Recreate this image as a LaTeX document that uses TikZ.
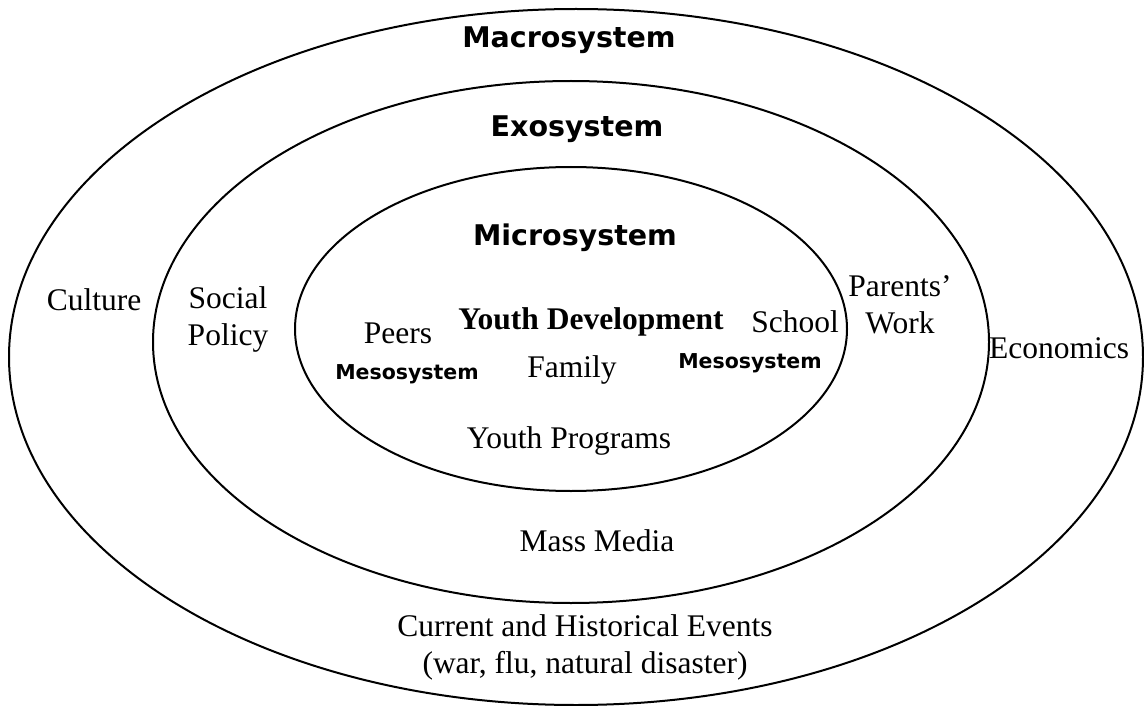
\documentclass[tikz,border=0pt]{standalone}
\usepackage{fontspec}
\setmainfont{Liberation Serif}
\newfontfamily\bsans{DejaVu Sans Bold}
\begin{document}
\begin{tikzpicture}[x=1pt,y=-1pt,
  ring/.style={line width=2pt},
  serif/.style={font=\fontsize{31.5}{37}\selectfont, align=center, inner sep=0pt},
  serifbold/.style={font=\bfseries\fontsize{31.5}{37}\selectfont, inner sep=0pt},
  bigsans/.style={font=\bsans\fontsize{28.5}{34}\selectfont, inner sep=0pt},
  smallsans/.style={font=\bsans\fontsize{20.5}{24}\selectfont, inner sep=0pt}]
\useasboundingbox (0,0) rectangle (1144,706);
\coordinate (cmacro) at (576,357);
\coordinate (cexo) at (571,342);
\coordinate (cmicro) at (571,329);
\draw[ring] (cmacro) ellipse [x radius=567, y radius=348];
\draw[ring] (cexo) ellipse [x radius=418, y radius=261];
\draw[ring] (cmicro) ellipse [x radius=276, y radius=162];
\node[bigsans] (macro) at (569,40) {Macrosystem};
\node[bigsans] (exo) at (577,129) {Exosystem};
\node[bigsans] (micro) at (575,238) {Microsystem};
\node[serif] (culture) at (94,300) {Culture};
\node[serif] (social) at (228,319) {Social\\Policy};
\node[serif] (peers) at (398,333) {Peers};
\node[serifbold] (yd) at (591,322) {Youth Development};
\node[serif] (school) at (795,322) {School};
\node[serif] (parents) at (900,305) {Parents’\\Work};
\node[serif] (econ) at (1059,348) {Economics};
\node[smallsans] (meso1) at (407,374) {Mesosystem};
\node[serif] (family) at (572,370) {Family};
\node[smallsans] (meso2) at (750,363) {Mesosystem};
\node[serif] (yp) at (569,441) {Youth Programs};
\node[serif] (media) at (597,541) {Mass Media};
\node[serif] (events) at (585,647) {Current and Historical Events\\(war, flu, natural disaster)};
\end{tikzpicture}
\end{document}
